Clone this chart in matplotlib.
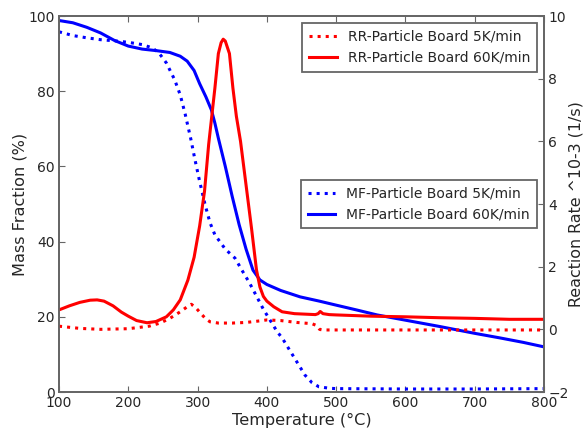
import matplotlib
matplotlib.use("Agg")
import matplotlib.pyplot as plt

# MF particle board, mass fraction (%) vs temperature (°C)
mf5_t = [100, 120, 140, 160, 180, 200, 220, 235, 245, 255, 267, 275, 282, 290,
         296, 303, 311, 318, 325, 340, 354, 364, 375, 385, 395, 405, 415, 422,
         435, 445, 455, 465, 475, 490, 500, 600, 700, 800]
mf5_m = [95.8, 94.8, 94.2, 93.7, 93.4, 93.0, 92.4, 91.5, 90.0, 87.5, 83.0, 79.0,
         74.0, 67.5, 62.0, 56.0, 49.7, 45.0, 41.8, 38.0, 35.6, 32.4, 29.0, 25.5,
         22.0, 19.0, 16.0, 14.4, 10.5, 7.5, 4.5, 2.5, 1.4, 1.0, 0.9, 0.8, 0.8, 0.9]

mf60_t = [100, 120, 140, 160, 180, 200, 220, 240, 260, 275, 285, 295, 303, 312,
          320, 325, 330, 340, 350, 360, 370, 380, 390, 400, 420, 448, 475, 500,
          530, 559, 600, 650, 700, 736, 770, 800]
mf60_m = [98.8, 98.2, 97.0, 95.5, 93.5, 92.0, 91.2, 90.8, 90.3, 89.3, 88.0, 85.5,
          82.0, 78.5, 75.0, 71.5, 67.5, 60.0, 52.0, 44.5, 38.0, 32.4, 29.8, 28.6,
          27.0, 25.3, 24.2, 23.1, 21.8, 20.5, 19.1, 17.4, 15.6, 14.4, 13.2, 12.0]

# RR particle board, reaction rate (x10^-3 1/s) vs temperature (°C)
rr5_t = [100, 130, 160, 200, 230, 246, 260, 275, 285, 291, 297, 305, 312, 318,
         330, 350, 370, 390, 400, 420, 443, 465, 472, 476, 480, 600, 700, 800]
rr5_r = [0.1, 0.03, 0.0, 0.02, 0.1, 0.2, 0.35, 0.56, 0.72, 0.8, 0.7, 0.5, 0.33,
         0.24, 0.2, 0.2, 0.22, 0.27, 0.3, 0.28, 0.22, 0.18, 0.12, 0.0, -0.02,
         -0.02, -0.02, -0.02]

rr60_t = [100, 115, 130, 145, 155, 165, 178, 190, 200, 212, 227, 240, 255, 265,
          275, 286, 295, 303, 310, 316, 321, 325, 330, 334, 337, 340, 346, 351,
          356, 362, 370, 378, 385, 390, 395, 400, 410, 422, 440, 470, 474, 477,
          481, 490, 500, 550, 600, 650, 700, 750, 800]
rr60_r = [0.62, 0.75, 0.86, 0.93, 0.94, 0.9, 0.75, 0.55, 0.42, 0.28, 0.21, 0.25,
          0.4, 0.62, 0.94, 1.57, 2.3, 3.3, 4.4, 5.9, 6.9, 7.7, 8.8, 9.15, 9.26,
          9.2, 8.8, 7.7, 6.8, 6.0, 4.6, 3.2, 1.9, 1.35, 1.05, 0.9, 0.72, 0.56,
          0.5, 0.47, 0.5, 0.57, 0.5, 0.47, 0.46, 0.42, 0.4, 0.37, 0.35, 0.32, 0.32]

text_c = "#262626"
spine_c = "#666666"
plt.rcParams["font.family"] = "DejaVu Sans"
plt.rcParams["font.size"] = 10
plt.rcParams["text.color"] = text_c

fig = plt.figure(figsize=(5.84, 4.34), dpi=100)
ax = fig.add_axes([59 / 584, 1 - 392 / 434, 485 / 584, 376 / 434])
ax2 = ax.twinx()

ax.plot(mf5_t, mf5_m, color="blue", linestyle=":", linewidth=2.2,
        label="MF-Particle Board 5K/min")
ax.plot(mf60_t, mf60_m, color="blue", linewidth=2.2,
        label="MF-Particle Board 60K/min")
ax2.plot(rr5_t, rr5_r, color="red", linestyle=":", linewidth=2.2,
         label="RR-Particle Board 5K/min")
ax2.plot(rr60_t, rr60_r, color="red", linewidth=2.2,
         label="RR-Particle Board 60K/min")

ax.set_xlim(100, 800)
ax.set_ylim(0, 100)
ax2.set_ylim(-2, 10)
ax.set_xticks(range(100, 801, 100))
ax.set_yticks(range(0, 101, 20))
ax2.set_yticks(range(-2, 11, 2))

ax.set_xlabel("Temperature (°C)", fontsize=11.6, color=text_c, labelpad=2)
ax.set_ylabel("Mass Fraction (%)", fontsize=11.6, color=text_c, labelpad=1)
ax2.set_ylabel("Reaction Rate ^10-3 (1/s)", fontsize=11.4, color=text_c,
               labelpad=0)

for a in (ax, ax2):
    for s in a.spines.values():
        s.set_color(spine_c)
        s.set_linewidth(1.3)
    a.tick_params(direction="in", length=4, width=0.8, color=spine_c,
                  labelcolor=text_c, labelsize=10, pad=3)
ax.tick_params(axis="x", top=True)

for a, loc in ((ax2, "upper right"), (ax, "center right")):
    leg = a.legend(loc=loc, fontsize=10, fancybox=False, framealpha=1,
                   handlelength=2.0, borderpad=0.5)
    leg.get_frame().set_edgecolor(spine_c)
    leg.get_frame().set_linewidth(1.3)

fig.savefig("out.png", dpi=100)
